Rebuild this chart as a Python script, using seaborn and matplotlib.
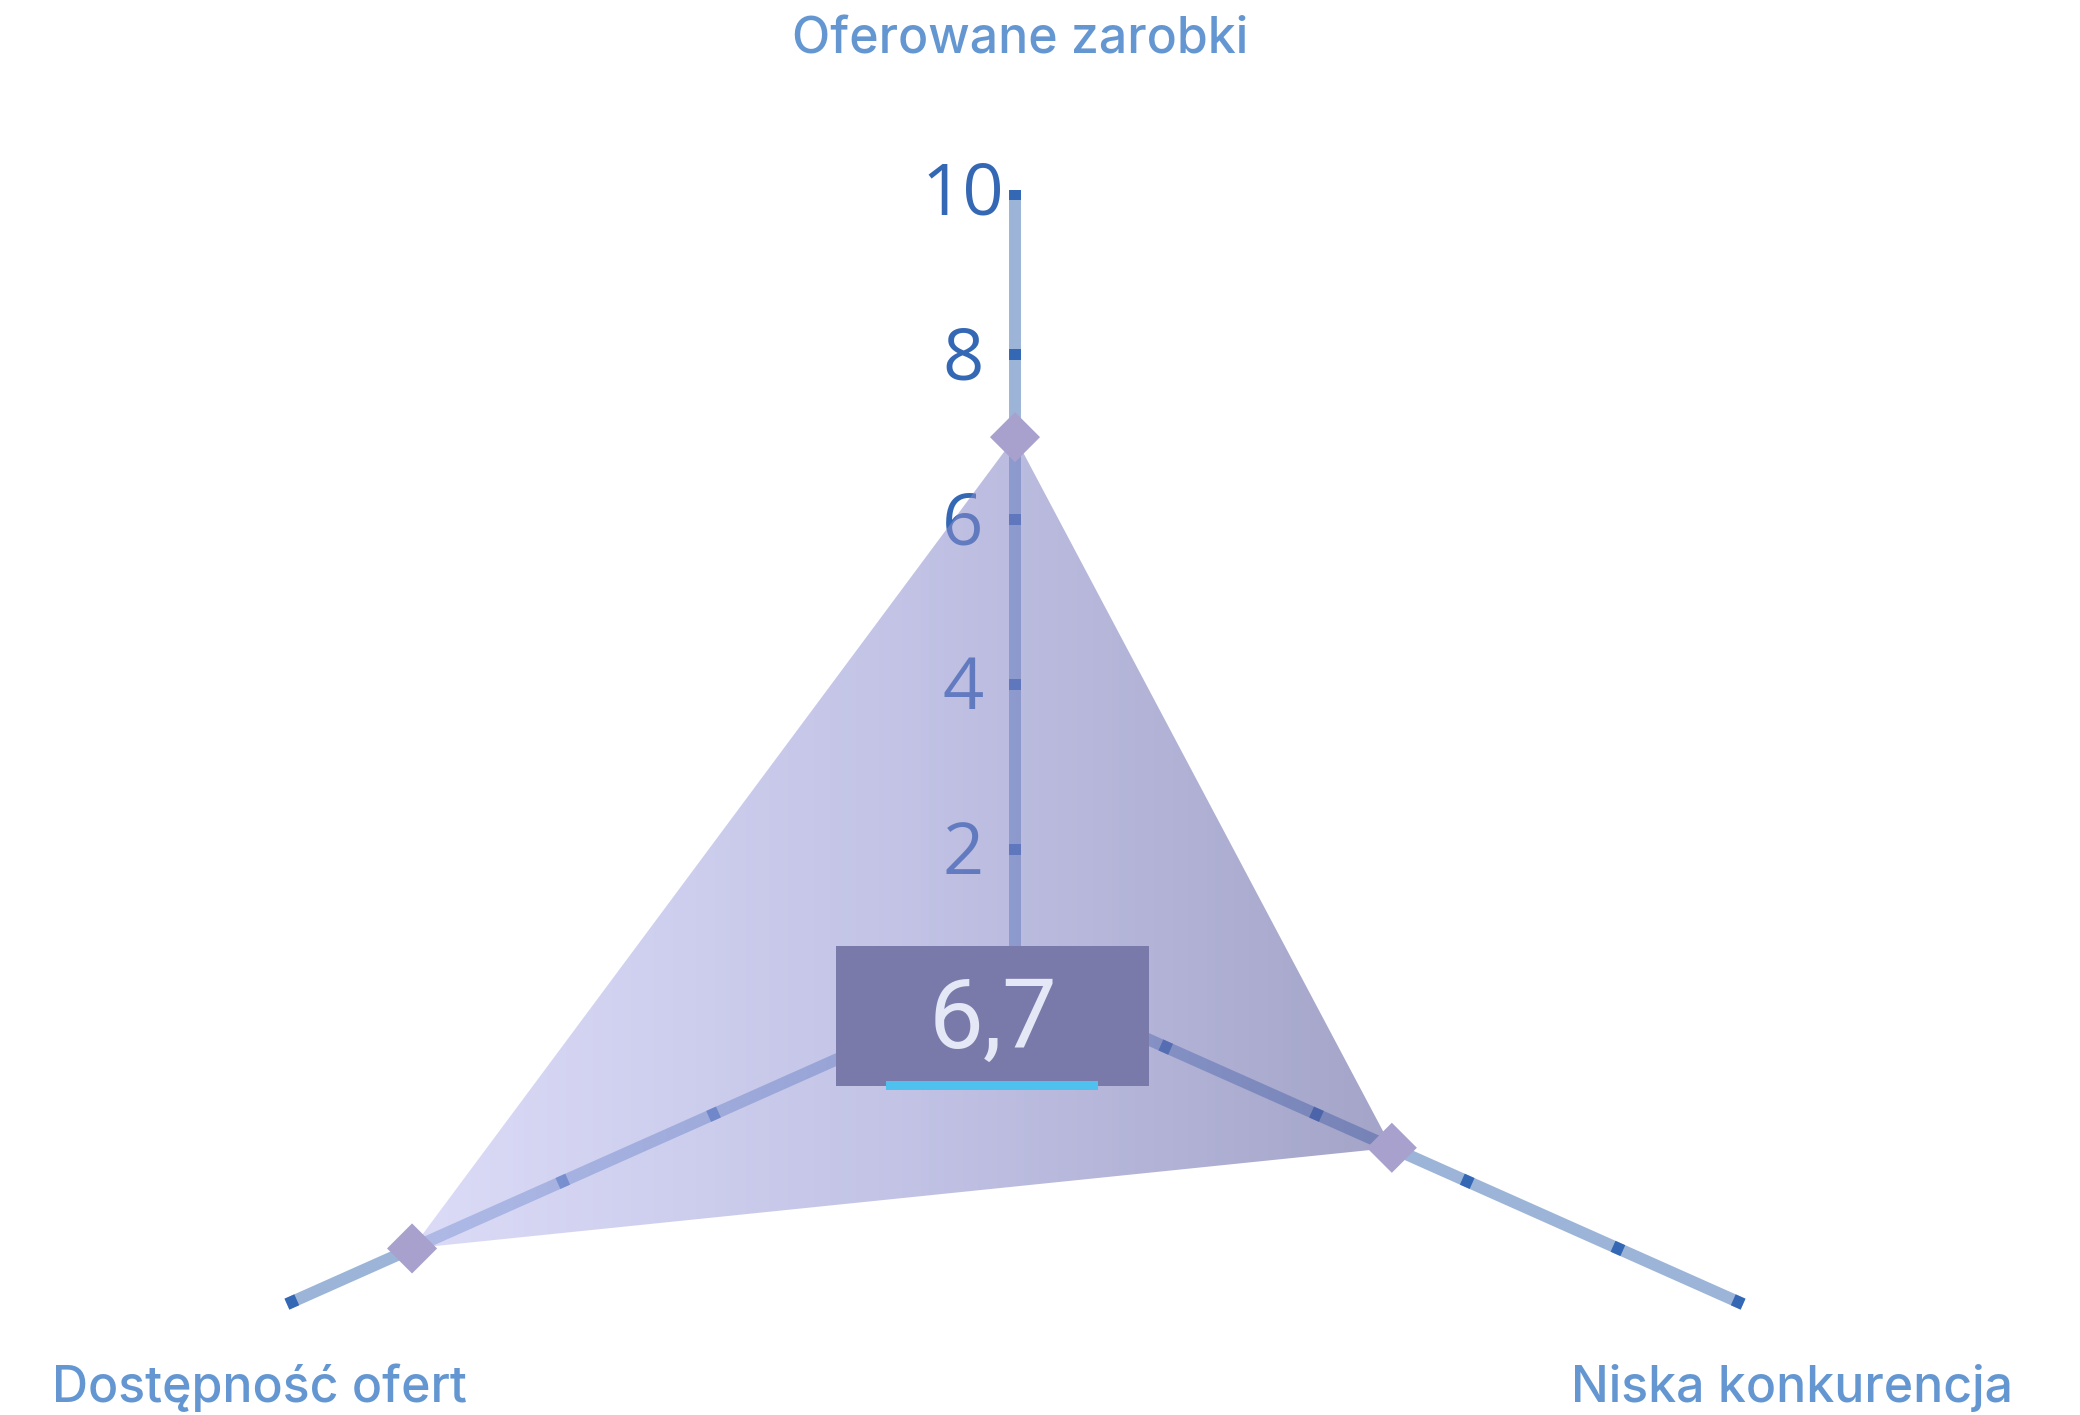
import numpy as np
import pandas as pd
import seaborn as sns
import matplotlib.pyplot as plt
from matplotlib.patches import Polygon, Rectangle
from matplotlib.colors import LinearSegmentedColormap

# data
categories = ['Oferowane zarobki', 'Niska konkurencja', 'Dostępność ofert']
scores = [7, 5, 8]
tick_values = [2, 4, 6, 8]
top_tick_labels = ['2', '4', '6', '8', '10']

# layout of the three spokes (1 unit = 1 point of score)
angles = [90, -24, 204]
top_shift = 0.42  # the vertical spoke is drawn a bit shifted in the original
axis_lens = [10 - top_shift, 9.66, 9.66]

line_col = '#9bb4d8'
tick_col = '#3568b4'
label_col = '#6497d1'
marker_col = '#a9a1cd'


def spoke_xy(i, v):
    r = v - top_shift if i == 0 else v
    a = np.deg2rad(angles[i])
    return r * np.cos(a), r * np.sin(a)


sns.set_theme(style='white')
fig = plt.figure(figsize=(20.8, 14.15), dpi=100)
ax = fig.add_axes([0, 0, 1, 1])

# spokes + tick marks
for i in range(3):
    a = np.deg2rad(angles[i])
    ux, uy = np.cos(a), np.sin(a)
    L = axis_lens[i]
    ax.plot([0, L * ux], [0, L * uy], color=line_col, lw=8.6,
            solid_capstyle='butt', zorder=1)
    tick_r = [(v - top_shift if i == 0 else v) for v in tick_values] + [L - 0.065]
    for r in tick_r:
        ax.plot([(r - 0.065) * ux, (r + 0.065) * ux], [(r - 0.065) * uy, (r + 0.065) * uy],
                color=tick_col, lw=8.6, solid_capstyle='butt', zorder=2)

# numbers on the vertical spoke
for lab in top_tick_labels:
    x, y = spoke_xy(0, float(lab))
    ax.text(x - 0.63, y - 0.3, lab, ha='center', va='baseline', fontsize=52,
            color=tick_col, family=['Open Sans', 'DejaVu Sans'], zorder=2)

# gradient filled area
pts = np.array([spoke_xy(i, s) for i, s in enumerate(scores)])
poly = Polygon(pts, closed=True, facecolor='none', edgecolor='none')
ax.add_patch(poly)
cmap = LinearSegmentedColormap.from_list('fill', ['#bfbff2', '#9092d1', '#585a9b'])
xmin, xmax = pts[:, 0].min(), pts[:, 0].max()
ymin, ymax = pts[:, 1].min(), pts[:, 1].max()
grad = np.linspace(0, 1, 256).reshape(1, -1)
im = ax.imshow(grad, cmap=cmap, extent=[xmin, xmax, ymin, ymax], aspect='auto',
               alpha=0.55, zorder=3, interpolation='bilinear')
im.set_clip_path(poly)

# markers
df = pd.DataFrame({'x': pts[:, 0], 'y': pts[:, 1], 'cat': categories})
sns.scatterplot(data=df, x='x', y='y', marker='D', s=650, color=marker_col,
                edgecolor='none', ax=ax, zorder=4, legend=False)
ax.set_xlim(-1015 / 82.5, (2080 - 1015) / 82.5)
ax.set_ylim(-(1415 - 980) / 82.5, 980 / 82.5)
ax.set_aspect('equal')
ax.axis('off')

# average box
avg = np.mean(scores)
ax.add_patch(Rectangle((-2.17, -1.28), 3.79, 1.69, facecolor='#7a7aaa', edgecolor='none', zorder=5))
ax.add_patch(Rectangle((-1.56, -1.33), 2.57, 0.11, facecolor='#4fc1ef', edgecolor='none', zorder=6))
ax.text(-0.27, -0.82, f'{avg:.1f}'.replace('.', ','), ha='center', va='baseline', fontsize=70,
        fontweight='normal', color='#e4e8f6', family=['Roboto', 'DejaVu Sans'], zorder=7)

# category labels
lab_font = dict(fontsize=36, color=label_col, family=['Inter', 'DejaVu Sans'], fontweight='medium')
fig.text(1020 / 2080, 1 - 53 / 1415, categories[0], ha='center', va='baseline', **lab_font)
fig.text(2013 / 2080, 1 - 1402 / 1415, categories[1], ha='right', va='baseline', **lab_font)
fig.text(52 / 2080, 1 - 1402 / 1415, categories[2], ha='left', va='baseline', **lab_font)

fig.savefig('out.png', dpi=100)
